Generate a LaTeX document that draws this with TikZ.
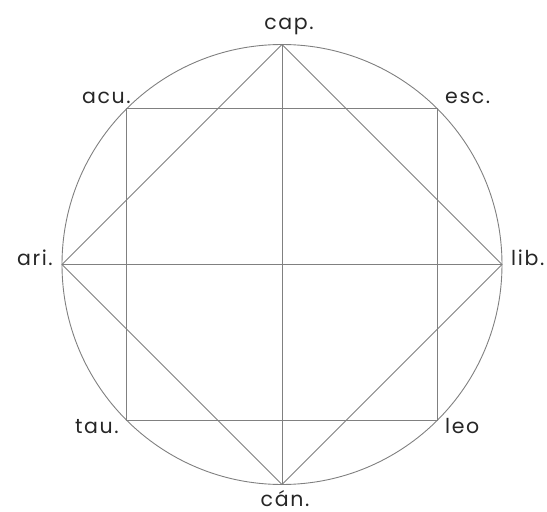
\documentclass[tikz,border=0pt]{standalone}
\usepackage{fontspec}
\setmainfont{Poppins}
\newfontfamily\signfont[LetterSpace=8]{Poppins}
\tikzset{
  guide/.style={draw=black!50, line width=0.9pt},
  sign/.style={inner sep=0pt, font=\signfont\fontsize{20.5}{24}\selectfont, text=black!85}
}
\begin{document}
\begin{tikzpicture}[x=1pt,y=1pt]
\useasboundingbox (-282,-247.5) rectangle (265,264.5);
% circle and the eight points on it
\coordinate (o) at (0,0);
\coordinate (lib) at (0:220);
\coordinate (esc) at (45:220);
\coordinate (cap) at (90:220);
\coordinate (acu) at (135:220);
\coordinate (ari) at (180:220);
\coordinate (tau) at (225:220);
\coordinate (can) at (270:220);
\coordinate (leo) at (315:220);
\draw[guide] (o) circle (220);
\draw[guide] (acu) -- (esc) -- (leo) -- (tau) -- cycle;
\draw[guide] (cap) -- (lib) -- (can) -- (ari) -- cycle;
\draw[guide] (ari) -- (lib);
\draw[guide] (cap) -- (can);
% labels
\node[sign, anchor=base] (lcap) at (7,234.5) {cap.};
\node[sign, anchor=base] (lcan) at (3,-241.5) {cán.};
\node[sign, anchor=base east] (lari) at (-229,-0.5) {ari.};
\node[sign, anchor=base west] (llib) at (229,-0.5) {lib.};
\node[sign, anchor=base east] (lacu) at (-151,161.5) {acu.};
\node[sign, anchor=base west] (lesc) at (163,161.5) {esc.};
\node[sign, anchor=base east] (ltau) at (-163,-168.5) {tau.};
\node[sign, anchor=base west] (lleo) at (163,-168.5) {leo};
\end{tikzpicture}
\end{document}
